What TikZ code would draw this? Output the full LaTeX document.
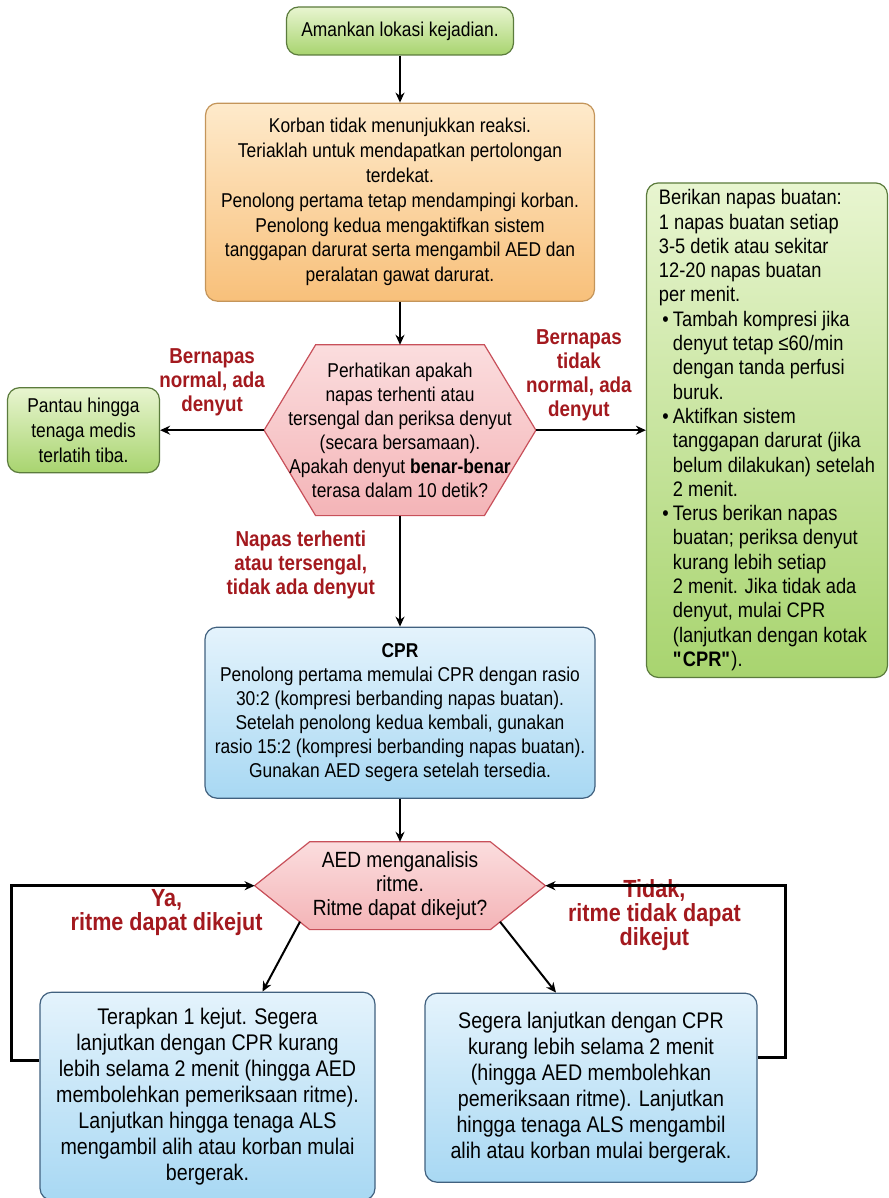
\documentclass[tikz,border=0pt]{standalone}
\usepackage{fontspec}
\setmainfont{Liberation Sans}[FakeStretch=0.87]
\usetikzlibrary{arrows.meta,positioning,calc,backgrounds}

\definecolor{grnTop}{HTML}{E8F5D0}
\definecolor{grnBot}{HTML}{A8D46F}
\definecolor{grnLine}{HTML}{5B7B3C}
\definecolor{orgTop}{HTML}{FEEACB}
\definecolor{orgBot}{HTML}{F8C07A}
\definecolor{orgLine}{HTML}{C4955A}
\definecolor{bluTop}{HTML}{E4F3FC}
\definecolor{bluBot}{HTML}{A8D8F3}
\definecolor{bluLine}{HTML}{41617F}
\definecolor{pnkTop}{HTML}{FBDDDE}
\definecolor{pnkBot}{HTML}{F4B4B7}
\definecolor{pnkLine}{HTML}{C8505A}
\definecolor{lblRed}{HTML}{A3191E}

\newcommand{\bul}{\makebox[7pt][l]{\,\textbullet}}
\newcommand{\ind}{\hspace*{7pt}}

\begin{document}
\begin{tikzpicture}[
      box/.style={rectangle, draw, rounded corners=6pt, align=center, line width=0.6pt,
                  font=\fontsize{10}{12.4}\selectfont},
      grnbox/.style={box, draw=grnLine, top color=grnTop, bottom color=grnBot},
      orgbox/.style={box, draw=orgLine, top color=orgTop, bottom color=orgBot},
      blubox/.style={box, draw=bluLine, top color=bluTop, bottom color=bluBot},
      hexnode/.style={rectangle, align=center, font=\fontsize{10}{12}\selectfont},
      hexline/.style={draw=pnkLine, line width=0.6pt, top color=pnkTop, bottom color=pnkBot},
      lbl/.style={align=center, text=lblRed, font=\bfseries\fontsize{10.8}{12}\selectfont},
      arr/.style={-{Stealth[length=5pt,width=4.5pt]}, line width=1pt},
      looparr/.style={arr, line width=1.6pt}]
    \useasboundingbox (0,0) rectangle (444pt,-599pt);

    \node[grnbox, minimum width=113.5pt, minimum height=24pt] (safe) at (200pt,-15.5pt) {Amankan lokasi kejadian.};
    \node[orgbox, below=23.5pt of safe, minimum width=194.5pt, minimum height=99pt] (help)
      {Korban tidak menunjukkan reaksi.\\ Teriaklah untuk mendapatkan pertolongan\\ terdekat.\\
       Penolong pertama tetap mendampingi korban.\\ Penolong kedua mengaktifkan sistem\\
       tanggapan darurat serta mengambil AED dan\\ peralatan gawat darurat.};
    \node[hexnode, below=21.5pt of help, minimum width=135.5pt, minimum height=85pt] (check)
      {Perhatikan apakah\\ napas terhenti atau\\ tersengal dan periksa denyut\\ (secara bersamaan).\\
       Apakah denyut \textbf{benar-benar}\\ terasa dalam 10 detik?};
    \node[grnbox, left=52pt of check, minimum width=76pt, minimum height=42.5pt] (watch)
      {Pantau hingga\\ tenaga medis\\ terlatih tiba.};
    \node[grnbox, right=55pt of check, minimum width=120.5pt, minimum height=242.5pt, align=left,
          font=\fontsize{10.5}{12.15}\selectfont] (rescue)
      {Berikan napas buatan:\\ 1 napas buatan setiap\\ 3-5 detik atau sekitar\\ 12-20 napas buatan\\ per menit.\\
       \bul Tambah kompresi jika\\ \ind denyut tetap ≤60/min\\ \ind dengan tanda perfusi\\ \ind buruk.\\
       \bul Aktifkan sistem\\ \ind tanggapan darurat (jika\\ \ind belum dilakukan) setelah\\ \ind 2 menit.\\
       \bul Terus berikan napas\\ \ind buatan; periksa denyut\\ \ind kurang lebih setiap\\ \ind 2 menit. Jika tidak ada\\
       \ind denyut, mulai CPR\\ \ind (lanjutkan dengan kotak\\ \ind \textbf{\textquotedbl CPR\textquotedbl}).};
    \node[blubox, below=55.5pt of check, minimum width=195pt, minimum height=85.5pt,
          font=\fontsize{10}{12}\selectfont] (cpr)
      {\textbf{CPR}\\ Penolong pertama memulai CPR dengan rasio\\ 30:2 (kompresi berbanding napas buatan).\\
       Setelah penolong kedua kembali, gunakan\\ rasio 15:2 (kompresi berbanding napas buatan).\\
       Gunakan AED segera setelah tersedia.};
    \node[hexnode, below=21.5pt of cpr, minimum width=145pt, minimum height=43.5pt,
          font=\fontsize{11}{12}\selectfont] (aed) {AED menganalisis\\ ritme.\\ Ritme dapat dikejut?};
    \node[blubox, below=31pt of aed, xshift=-96.25pt, minimum width=167.5pt, minimum height=104pt,
          font=\fontsize{11.3}{13}\selectfont] (shock)
      {Terapkan 1 kejut. Segera\\ lanjutkan dengan CPR kurang\\ lebih selama 2 menit (hingga AED\\
       membolehkan pemeriksaan ritme).\\ Lanjutkan hingga tenaga ALS\\ mengambil alih atau korban mulai\\ bergerak.};
    \node[blubox, below=31.5pt of aed, xshift=95.5pt, minimum width=166pt, minimum height=94.5pt,
          font=\fontsize{11.3}{13}\selectfont] (noshock)
      {Segera lanjutkan dengan CPR\\ kurang lebih selama 2 menit\\ (hingga AED membolehkan\\
       pemeriksaan ritme). Lanjutkan\\ hingga tenaga ALS mengambil\\ alih atau korban mulai bergerak.};

    % hexagon outlines behind the decision texts
    \begin{scope}[on background layer]
      \foreach \h/\c in {check/25.75pt, aed/27.5pt}
        \path[hexline] (\h.west) -- ([xshift=\c]\h.north west) -- ([xshift=-\c]\h.north east) -- (\h.east)
          -- ([xshift=-\c]\h.south east) -- ([xshift=\c]\h.south west) -- cycle;
    \end{scope}

    \node[lbl, above=3.5pt] (lblok) at ($(check.west)!.5!(watch.east)$) {Bernapas\\ normal, ada\\ denyut};
    \node[lbl, above=1pt, xshift=-6pt] (lblweak) at ($(check.east)!.5!(check.east -| rescue.west)$)
      {Bernapas\\ tidak\\ normal, ada\\ denyut};
    \node[lbl, left=9pt, yshift=3pt] (lblnone) at ($(check.south)!.5!(cpr.north)$) {Napas terhenti\\ atau tersengal,\\ tidak ada denyut};
    \node[lbl, font=\bfseries\fontsize{12.4}{12}\selectfont] (lblyes) at ([xshift=-44pt,yshift=-13.5pt]aed.west)
      {Ya,\\ ritme dapat dikejut};
    \node[lbl, font=\bfseries\fontsize{12.4}{12}\selectfont] (lblno) at ([xshift=54.5pt,yshift=-14.5pt]aed.east)
      {Tidak,\\ ritme tidak dapat\\ dikejut};

    \draw[arr] (safe) -- (help);
    \draw[arr] (help) -- (check);
    \draw[arr] (check) -- (watch);
    \draw[arr] (check.east) -- (check.east -| rescue.west);
    \draw[arr] (check) -- (cpr);
    \draw[arr] (cpr) -- (aed);
    \draw[arr] ([xshift=-50pt,yshift=-18pt]aed.center) -- ([xshift=27.5pt]shock.north);
    \draw[arr] ([xshift=50pt,yshift=-18pt]aed.center) -- ([xshift=-17.5pt]noshock.north);
    \draw[looparr] ([yshift=18pt]shock.west) -- ++(-14pt,0) |- (aed.west);
    \draw[looparr] ([yshift=15pt]noshock.east) -- ++(14pt,0) |- (aed.east);
  \end{tikzpicture}
\end{document}
